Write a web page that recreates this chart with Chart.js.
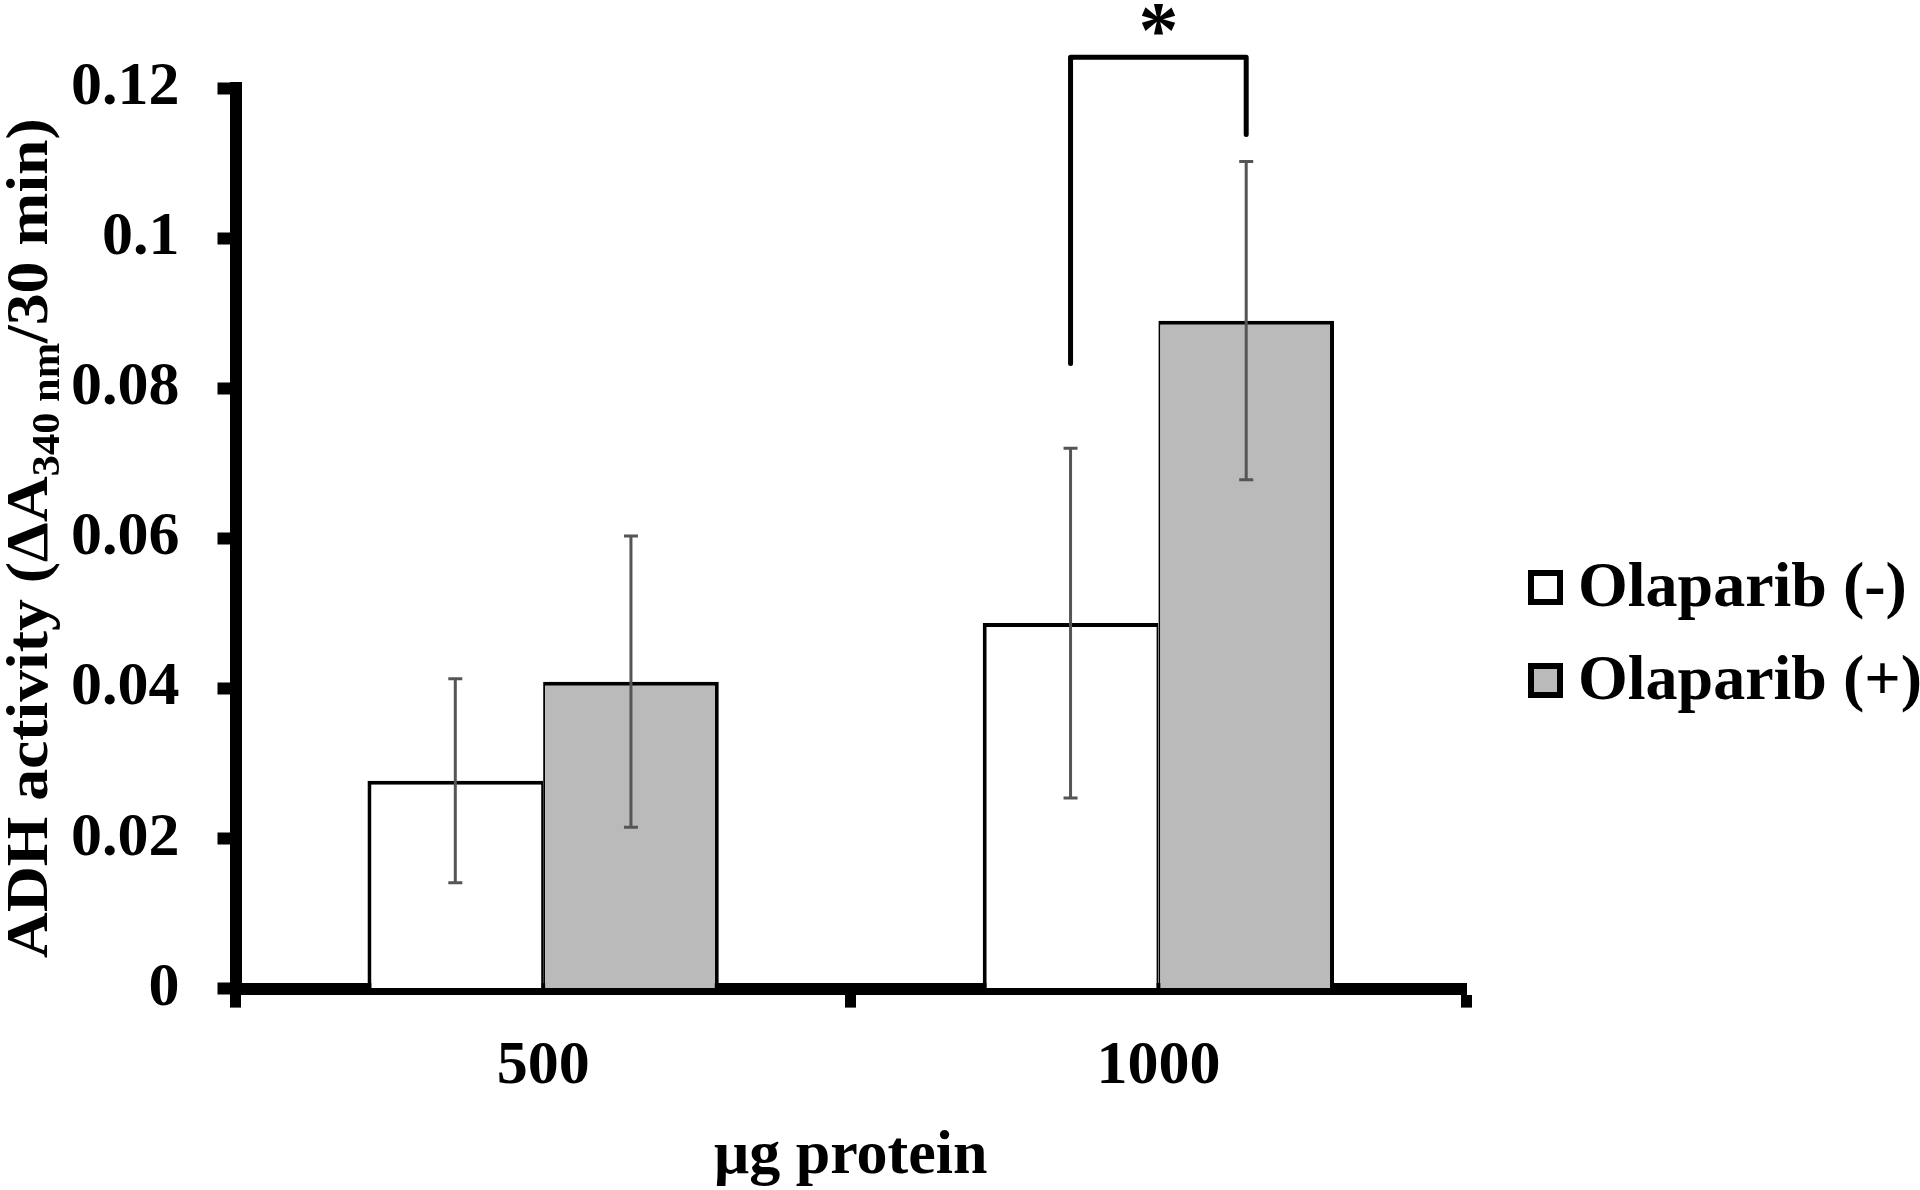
<!DOCTYPE html>
<html>
<head>
<meta charset="utf-8">
<title>ADH activity</title>
<script src="https://cdn.jsdelivr.net/npm/chart.js@4.4.1/dist/chart.umd.min.js"></script>
<style>
  html, body { margin: 0; padding: 0; background: #ffffff; }
  #contenedor { width: 1920px; height: 1190px; }
</style>
</head>
<body>
<div id="contenedor"><canvas id="grafica"></canvas></div>
<script>
// datos
var categorias = ['500', '1000'];
var nombresSerie = ['Olaparib (-)', 'Olaparib (+)'];
var sinOlaparib = [0.0277, 0.0487];
var conOlaparib = [0.0409, 0.0890];
var errorSin = [0.0136, 0.0233];
var errorCon = [0.0194, 0.0212];
var ticksY = [0, 0.02, 0.04, 0.06, 0.08, 0.1, 0.12];
// corchete de significancia: pata izquierda, linea superior, pata derecha
var corchete = [0.0833, 0.1241, 0.1138];
var marcaSignificancia = '*';

var fuente = '"Liberation Serif", "Times New Roman", serif';

// barras de error sobre cada barra
const barrasError = {
    id: 'barrasError',
    afterDatasetsDraw(chart) {
        const ctx = chart.ctx;
        const escalaY = chart.scales.y;
        const errores = [errorSin, errorCon];
        ctx.save();
        ctx.strokeStyle = '#555555';
        ctx.lineWidth = 3;
        chart.data.datasets.forEach((ds, d) => {
            const meta = chart.getDatasetMeta(d);
            meta.data.forEach((barra, i) => {
                const v = ds.data[i];
                const arriba = escalaY.getPixelForValue(v + errores[d][i]);
                const abajo = escalaY.getPixelForValue(v - errores[d][i]);
                const x = barra.x;
                ctx.beginPath();
                ctx.moveTo(x, arriba);
                ctx.lineTo(x, abajo);
                ctx.moveTo(x - 7, arriba);
                ctx.lineTo(x + 7, arriba);
                ctx.moveTo(x - 7, abajo);
                ctx.lineTo(x + 7, abajo);
                ctx.stroke();
            });
        });

        // corchete entre las barras de 1000
        const xIzq = chart.getDatasetMeta(0).data[1].x;
        const xDer = chart.getDatasetMeta(1).data[1].x;
        const yIzq = escalaY.getPixelForValue(corchete[0]);
        const yTop = escalaY.getPixelForValue(corchete[1]);
        const yDer = escalaY.getPixelForValue(corchete[2]);
        ctx.strokeStyle = '#000000';
        ctx.lineWidth = 5;
        ctx.lineCap = 'round';
        ctx.lineJoin = 'round';
        ctx.beginPath();
        ctx.moveTo(xIzq, yIzq);
        ctx.lineTo(xIzq, yTop);
        ctx.lineTo(xDer, yTop);
        ctx.lineTo(xDer, yDer);
        ctx.stroke();

        ctx.fillStyle = '#000000';
        ctx.font = 'bold 80px ' + fuente;
        ctx.textAlign = 'center';
        ctx.textBaseline = 'alphabetic';
        ctx.fillText(marcaSignificancia, (xIzq + xDer) / 2, yTop);
        ctx.restore();
    }
};

// titulo del eje Y con subindice
const tituloEjeY = {
    id: 'tituloEjeY',
    afterDraw(chart) {
        const ctx = chart.ctx;
        const partes = [
            { t: 'ADH activity (\u0394A', size: 60, dy: 0 },
            { t: '340 nm', size: 40, dy: 12 },
            { t: '/30 min)', size: 60, dy: 0 }
        ];
        ctx.save();
        let total = 0;
        partes.forEach(p => {
            ctx.font = 'bold ' + p.size + 'px ' + fuente;
            p.w = ctx.measureText(p.t).width;
            total += p.w;
        });
        const largo = 840;
        const centro = (chart.chartArea.top + chart.chartArea.bottom) / 2;
        ctx.translate(47, centro);
        ctx.rotate(-Math.PI / 2);
        ctx.scale(largo / total, 1);
        ctx.fillStyle = '#000000';
        ctx.textAlign = 'left';
        ctx.textBaseline = 'alphabetic';
        let x = -total / 2;
        partes.forEach(p => {
            ctx.font = 'bold ' + p.size + 'px ' + fuente;
            ctx.fillText(p.t, x, p.dy);
            x += p.w;
        });
        ctx.restore();
    }
};

// leyenda a la derecha
const leyenda = {
    id: 'leyenda',
    afterDraw(chart) {
        const ctx = chart.ctx;
        const x0 = chart.chartArea.right + 62;
        const filas = [587, 680];
        ctx.save();
        chart.data.datasets.forEach((ds, i) => {
            const y = filas[i];
            ctx.fillStyle = ds.backgroundColor;
            ctx.fillRect(x0, y - 17, 35, 35);
            ctx.strokeStyle = '#000000';
            ctx.lineWidth = 6;
            ctx.strokeRect(x0 + 3, y - 14, 29, 29);
            ctx.fillStyle = '#000000';
            ctx.font = 'bold 64px ' + fuente;
            ctx.textAlign = 'left';
            ctx.textBaseline = 'middle';
            ctx.fillText(ds.label, x0 + 50, y + 2);
        });
        ctx.restore();
    }
};

var ctx = document.getElementById('grafica').getContext('2d');
var grafica = new Chart(ctx, {
    type: 'bar',
    data: {
        labels: categorias,
        datasets: [{
            label: nombresSerie[0],
            data: sinOlaparib,
            backgroundColor: '#ffffff',
            borderColor: '#000000',
            borderWidth: { top: 4, left: 4, right: 2, bottom: 0 },
            categoryPercentage: 0.571,
            barPercentage: 1
        }, {
            label: nombresSerie[1],
            data: conOlaparib,
            backgroundColor: '#bababa',
            borderColor: '#000000',
            borderWidth: { top: 4, left: 2, right: 4, bottom: 0 },
            categoryPercentage: 0.571,
            barPercentage: 1
        }]
    },
    options: {
        responsive: true,
        maintainAspectRatio: false,
        animation: false,
        layout: { padding: { left: 33, top: 88, right: 454, bottom: 0 } },
        plugins: {
            legend: { display: false },
            tooltip: { enabled: false }
        },
        scales: {
            x: {
                border: { display: true, color: '#000000', width: 12 },
                grid: { drawOnChartArea: false, offset: true, tickLength: 19, tickWidth: 11, tickColor: '#000000' },
                ticks: {
                    color: '#000000',
                    padding: 22,
                    font: { family: fuente, size: 62, weight: 'bold' }
                },
                title: {
                    display: true,
                    text: '\u03bcg protein',
                    color: '#000000',
                    font: { family: fuente, size: 62, weight: 'bold', lineHeight: 1 },
                    padding: { top: 0, bottom: 2 }
                }
            },
            y: {
                min: 0,
                max: 0.12,
                afterBuildTicks: function (escala) {
                    escala.ticks = ticksY.map(v => ({ value: v }));
                },
                border: { display: true, color: '#000000', width: 12 },
                grid: { drawOnChartArea: false, tickLength: 18, tickWidth: 12, tickColor: '#000000' },
                ticks: {
                    color: '#000000',
                    padding: 38,
                    font: { family: fuente, size: 62, weight: 'bold' },
                    callback: function (valor) {
                        return String(parseFloat(Number(valor).toFixed(2)));
                    }
                }
            }
        }
    },
    plugins: [barrasError, tituloEjeY, leyenda]
});
</script>
</body>
</html>
